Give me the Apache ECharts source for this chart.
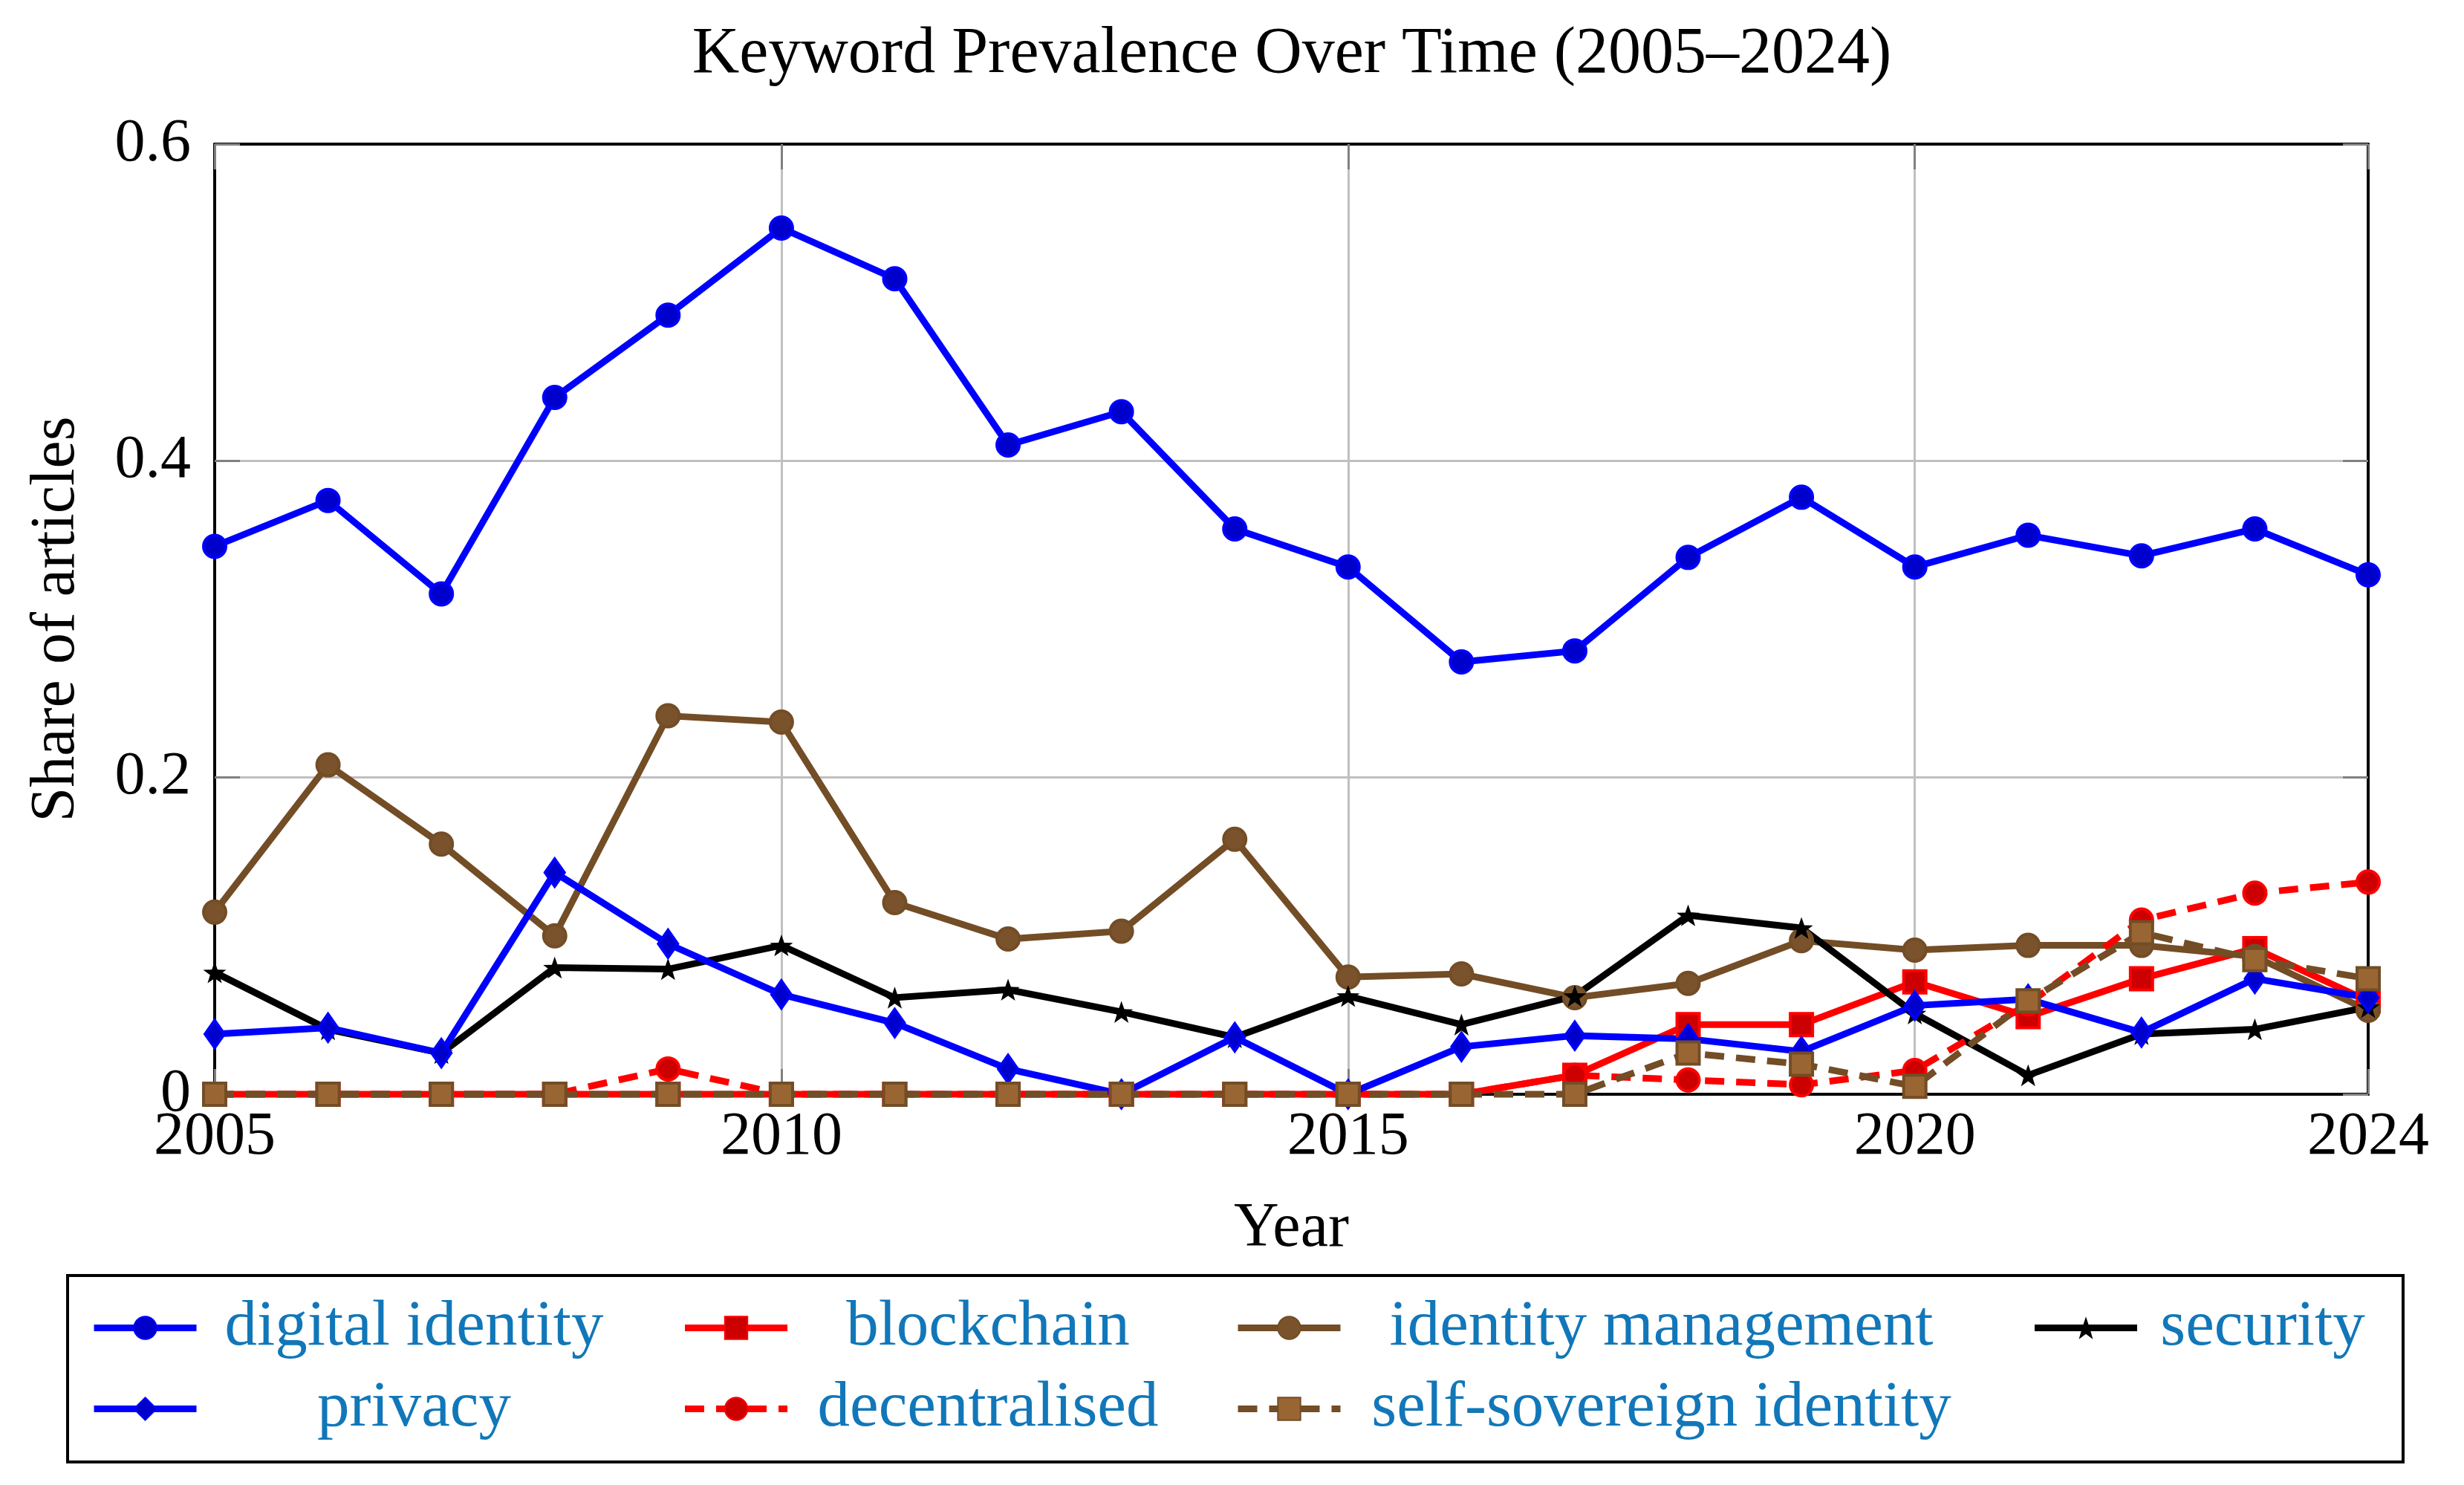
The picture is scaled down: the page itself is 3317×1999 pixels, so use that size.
<!DOCTYPE html>
<html>
<head>
<meta charset="utf-8">
<script src="https://cdn.jsdelivr.net/npm/echarts@6/dist/echarts.min.js"></script>
<style>
  html, body { margin: 0; padding: 0; background: #ffffff; }
  #chart { width: 3317px; height: 1999px; }
</style>
</head>
<body>
<div id="chart"></div>
<script>
// ---- data ----
const years = [2005, 2006, 2007, 2008, 2009, 2010, 2011, 2012, 2013, 2014,
               2015, 2016, 2017, 2018, 2019, 2020, 2021, 2022, 2023, 2024];

const seriesNames = ['digital identity', 'blockchain', 'identity management', 'security',
                     'privacy', 'decentralised', 'self-sovereign identity'];

const digitalIdentity = [0.346, 0.375, 0.316, 0.440, 0.492, 0.547, 0.515, 0.410, 0.431, 0.357,
                         0.333, 0.273, 0.280, 0.339, 0.377, 0.333, 0.353, 0.340, 0.357, 0.328];
const blockchain = [0, 0, 0, 0, 0, 0, 0, 0, 0, 0,
                    0, 0, 0.012, 0.044, 0.044, 0.071, 0.049, 0.073, 0.092, 0.059];
const identityManagement = [0.115, 0.208, 0.158, 0.100, 0.239, 0.235, 0.121, 0.098, 0.103, 0.161,
                            0.074, 0.076, 0.061, 0.070, 0.097, 0.091, 0.094, 0.094, 0.087, 0.053];
const security = [0.077, 0.041, 0.026, 0.080, 0.079, 0.094, 0.061, 0.066, 0.052, 0.036,
                  0.062, 0.044, 0.062, 0.113, 0.105, 0.051, 0.012, 0.038, 0.041, 0.055];
const privacy = [0.038, 0.042, 0.026, 0.140, 0.095, 0.063, 0.045, 0.016, 0, 0.036,
                 0, 0.030, 0.037, 0.035, 0.027, 0.056, 0.060, 0.039, 0.073, 0.061];
const decentralised = [0, 0, 0, 0, 0.016, 0, 0, 0, 0, 0,
                       0, 0, 0.012, 0.009, 0.006, 0.015, 0.057, 0.110, 0.127, 0.134];
const selfSovereign = [0, 0, 0, 0, 0, 0, 0, 0, 0, 0,
                       0, 0, 0, 0.026, 0.019, 0.005, 0.059, 0.102, 0.085, 0.073];

const yTicks = [0, 0.2, 0.4, 0.6];
const xTickStep = 5;

// ---- styling ----
const FONT = 'Liberation Serif';
const LEGEND_TEXT = '#1177b9';
const LINE_W = 9;

function starPath() {
  let d = '';
  for (let i = 0; i < 10; i++) {
    const r = (i % 2 === 0) ? 50 : 20;
    const a = -Math.PI / 2 + i * Math.PI / 5;
    const x = (50 + r * Math.cos(a)).toFixed(2);
    const y = (50 + r * Math.sin(a)).toFixed(2);
    d += (i === 0 ? 'M' : 'L') + x + ' ' + y + ' ';
  }
  return 'path://' + d + 'Z';
}

const styles = {
  'digital identity':        { line: '#0000ff', fill: '#0000cc', symbol: 'circle',  size: 30, dash: 'solid' },
  'blockchain':              { line: '#ff0000', fill: '#cc0000', symbol: 'rect',    size: 30, dash: 'solid' },
  'identity management':     { line: '#734d26', fill: '#7a532c', symbol: 'circle',  size: 30, dash: 'solid' },
  'security':                { line: '#000000', fill: '#000000', symbol: starPath(), size: 31, dash: 'solid', noBorder: true },
  'privacy':                 { line: '#0000ff', fill: '#0000cc', symbol: 'diamond', size: [26, 37], dash: 'solid' },
  'decentralised':           { line: '#ff0000', fill: '#cc0000', symbol: 'circle',  size: 30, dash: [26, 16] },
  'self-sovereign identity': { line: '#734d26', fill: '#996633', symbol: 'rect',    size: 30, dash: [26, 16] }
};

const valuesByName = {
  'digital identity': digitalIdentity,
  'blockchain': blockchain,
  'identity management': identityManagement,
  'security': security,
  'privacy': privacy,
  'decentralised': decentralised,
  'self-sovereign identity': selfSovereign
};

// legend column (for centred text cells + spacer to next column)
const legendColumn = {
  'digital identity': 1, 'privacy': 1,
  'blockchain': 2, 'decentralised': 2,
  'identity management': 3, 'self-sovereign identity': 3,
  'security': 4
};
const colWidths = { 1: 576, 2: 530, 3: 854, 4: 328 };
const colSpacers = { 1: 50, 2: 45, 3: 49, 4: 0 };
const rich = {};
Object.keys(colWidths).forEach(k => {
  rich['c' + k] = {
    width: colWidths[k], align: 'center', lineHeight: 84,
    fontFamily: FONT, fontSize: 87, color: LEGEND_TEXT
  };
  rich['s' + k] = { width: colSpacers[k], lineHeight: 84, fontFamily: FONT, fontSize: 84 };
});

const series = seriesNames.map(name => {
  const s = styles[name];
  return {
    name: name,
    type: 'line',
    data: years.map((y, i) => [y, valuesByName[name][i]]),
    symbol: s.symbol,
    symbolSize: s.size,
    symbolKeepAspect: true,
    showSymbol: true,
    showAllSymbol: true,
    clip: false,
    lineStyle: { color: s.line, width: LINE_W, type: s.dash, cap: 'butt', join: 'miter' },
    itemStyle: {
      color: s.fill,
      borderColor: s.noBorder ? s.fill : s.line,
      borderWidth: s.noBorder ? 0 : 4
    },
    emphasis: { disabled: true }
  };
});

const axisCommonX = {
  type: 'value', min: 2005, max: 2024, interval: xTickStep,
  axisLine: { show: true, onZero: false, lineStyle: { color: '#000000', width: 4 } },
  axisTick: { show: true, inside: true, length: 34, lineStyle: { color: '#808080', width: 3 } }
};
const axisCommonY = {
  type: 'value', min: yTicks[0], max: yTicks[yTicks.length - 1], interval: 0.2,
  axisLine: { show: true, onZero: false, lineStyle: { color: '#000000', width: 4 } },
  axisTick: { show: true, inside: true, length: 34, lineStyle: { color: '#808080', width: 3 } }
};

const option = {
  animation: false,
  backgroundColor: '#ffffff',
  title: {
    text: 'Keyword Prevalence Over Time (2005\u20132024)',
    left: 1739, top: 30, textAlign: 'center', padding: 0,
    textStyle: { fontFamily: FONT, fontSize: 88, fontWeight: 'normal', color: '#000000' }
  },
  grid: { left: 289, right: 129, top: 194, bottom: 526, containLabel: false },
  xAxis: [
    Object.assign({}, axisCommonX, {
      position: 'bottom',
      name: 'Year', nameLocation: 'middle', nameGap: 140,
      nameTextStyle: { fontFamily: FONT, fontSize: 84, color: '#000000' },
      axisLabel: {
        show: true, margin: 17, fontFamily: FONT, fontSize: 82, color: '#000000',
        formatter: v => String(v)
      },
      splitLine: { show: true, lineStyle: { color: '#c0c0c0', width: 3 } }
    }),
    Object.assign({}, axisCommonX, {
      position: 'top',
      axisLabel: { show: false },
      splitLine: { show: false }
    })
  ],
  yAxis: [
    Object.assign({}, axisCommonY, {
      position: 'left',
      name: 'Share of articles', nameLocation: 'middle', nameGap: 170,
      nameTextStyle: { fontFamily: FONT, fontSize: 84, color: '#000000' },
      axisLabel: {
        show: true, margin: 32, fontFamily: FONT, fontSize: 82, color: '#000000',
        formatter: v => (v === 0 ? '0' : String(Math.round(v * 10) / 10))
      },
      splitLine: { show: true, lineStyle: { color: '#c0c0c0', width: 3 } }
    }),
    Object.assign({}, axisCommonY, {
      position: 'right',
      axisLabel: { show: false },
      splitLine: { show: false }
    })
  ],
  legend: {
    data: seriesNames,
    orient: 'horizontal',
    left: 91, top: 1717,
    width: 3140,
    padding: [27, 25, 28, 31],
    itemGap: 22,
    itemWidth: 138,
    itemHeight: 38,
    borderColor: '#000000',
    borderWidth: 4,
    backgroundColor: '#ffffff',
    selectedMode: false,
    lineStyle: { width: LINE_W },
    textStyle: { fontFamily: FONT, fontSize: 84, color: LEGEND_TEXT, rich: rich },
    formatter: name => {
      const c = legendColumn[name];
      return '{c' + c + '|' + name + '}' + (colSpacers[c] > 0 ? '{s' + c + '|\u00a0}' : '');
    }
  },
  series: series
};

const chart = echarts.init(document.getElementById('chart'), null, { renderer: 'canvas' });
chart.setOption(option);
</script>
</body>
</html>
